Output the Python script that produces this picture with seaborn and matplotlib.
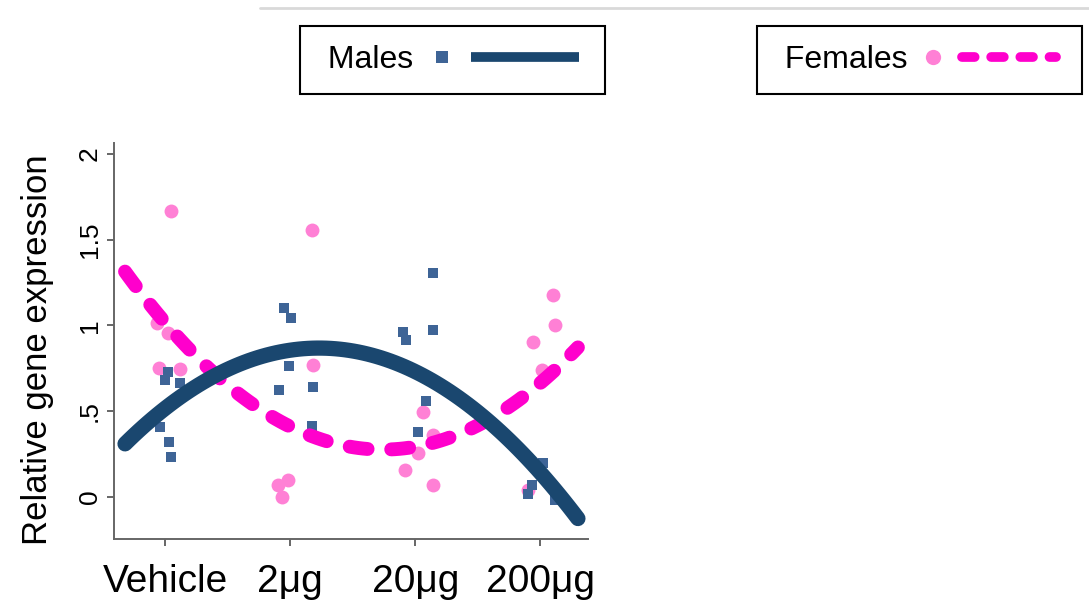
import pandas as pd
import matplotlib.pyplot as plt
from matplotlib.lines import Line2D
from matplotlib.legend_handler import HandlerBase
import seaborn as sns

sns.set_style('ticks')
plt.rcParams['font.family'] = ['Liberation Sans', 'DejaVu Sans']
plt.rcParams['text.color'] = 'black'

# Values (x is the jittered dose position, 1 = Vehicle)
male_x = [1.026, 1.000, 1.120, 0.958, 1.034, 1.048,
          1.949, 2.005, 1.994, 1.914, 2.185, 2.173,
          3.145, 2.905, 2.926, 3.140, 3.086, 3.022,
          4.022, 3.934, 3.902, 4.117]
male_y = [0.73, 0.68, 0.663, 0.41, 0.32, 0.235,
          1.10, 1.044, 0.764, 0.624, 0.64, 0.414,
          1.304, 0.96, 0.915, 0.974, 0.562, 0.377,
          0.20, 0.07, 0.02, -0.02]
female_x = [1.048, 0.936, 1.024, 0.952, 1.120,
            2.173, 2.183, 1.903, 1.983, 1.935,
            3.065, 3.145, 3.022, 2.918, 3.140,
            4.099, 4.120, 3.942, 4.016, 3.904]
female_y = [1.668, 1.015, 0.956, 0.754, 0.745,
            1.557, 0.77, 0.07, 0.10, 0.0,
            0.497, 0.36, 0.255, 0.157, 0.07,
            1.178, 1.0, 0.906, 0.74, 0.04]

# points
male_fit_x = [0.68, 1.013, 1.28, 1.546, 1.679, 2.183, 2.798, 3.438, 3.678, 4.077, 4.30]
male_fit_y = [0.322, 0.526, 0.643, 0.75, 0.81, 0.853, 0.789, 0.526, 0.41, 0.118, -0.175]
female_fit_x = [0.68, 0.733, 0.894, 1.08, 1.28, 1.493, 1.746, 1.959, 2.225, 2.44,
                2.838, 3.065, 3.33, 3.784, 4.064, 4.30]
female_fit_y = [1.31, 1.275, 1.11, 0.945, 0.78, 0.663, 0.527, 0.42, 0.332, 0.303,
                0.278, 0.313, 0.38, 0.507, 0.711, 0.88]

dose_ticks = [1, 2, 3, 4]
dose_labels = ['Vehicle', '2\u03bcg', '20\u03bcg', '200\u03bcg']
y_ticks = [0, 0.5, 1, 1.5, 2]
y_labels = ['0', '.5', '1', '1.5', '2']

males = pd.DataFrame({'dose': male_x, 'expr': male_y})
females = pd.DataFrame({'dose': female_x, 'expr': female_y})
male_fit = pd.DataFrame({'dose': male_fit_x, 'expr': male_fit_y})
female_fit = pd.DataFrame({'dose': female_fit_x, 'expr': female_fit_y})

navy = '#1a476f'
blue = '#3e6496'
magenta = '#ff00cc'
pink = '#ff80d5'

fig = plt.figure(figsize=(10.89, 6), dpi=100)
ax = fig.add_axes([0.1047, 0.1017, 0.4353, 0.66])

sns.scatterplot(data=females, x='dose', y='expr', marker='o', s=100,
                color=pink, linewidth=0, ax=ax, zorder=2)
sns.scatterplot(data=males, x='dose', y='expr', marker='s', s=62,
                color=blue, linewidth=0, ax=ax, zorder=3)

sns.regplot(data=female_fit, x='dose', y='expr', order=2, ci=None, scatter=False,
            ax=ax, line_kws=dict(color=magenta, lw=10, dashes=(1.3, 1.7),
                                 dash_capstyle='round', zorder=4))
sns.regplot(data=male_fit, x='dose', y='expr', order=2, ci=None, scatter=False,
            ax=ax, line_kws=dict(color=navy, lw=11, solid_capstyle='round', zorder=5))

ax.set_xlim(0.592, 4.381)
ax.set_ylim(-0.245, 2.064)
ax.set_xticks(dose_ticks, labels=dose_labels, fontsize=28)
ax.set_yticks(y_ticks, labels=y_labels, fontsize=19, rotation=90, va='center')
ax.tick_params(axis='both', color='#666666', width=1.4, length=5, labelcolor='black')
ax.tick_params(axis='x', pad=13)
ax.tick_params(axis='y', pad=4)
for side in ['left', 'bottom']:
    ax.spines[side].set_color('#666666')
    ax.spines[side].set_linewidth(1.4)
sns.despine(ax=ax)
ax.set_xlabel('')
ax.set_ylabel('Relative gene expression', fontsize=25, color='black')
ax.yaxis.set_label_coords(-0.127, 0.477)


class MarkerLineHandler(HandlerBase):
    def create_artists(self, legend, orig_handle, xdescent, ydescent,
                       width, height, fontsize, trans):
        mark, line = orig_handle
        y = height / 2 - ydescent
        m = Line2D([-xdescent + 0.4 * fontsize], [y])
        m.update_from(mark)
        m.set_linestyle('')
        l = Line2D([-xdescent + 1.3 * fontsize, -xdescent + width - 0.2 * fontsize], [y, y])
        l.update_from(line)
        l.set_marker('')
        for a in (m, l):
            a.set_transform(trans)
        return [m, l]


male_handle = (Line2D([], [], ls='', marker='s', ms=8.5, color=blue, mew=0),
               Line2D([], [], color=navy, lw=7, solid_capstyle='butt'))
female_handle = (Line2D([], [], ls='', marker='o', ms=11, color=pink, mew=0),
                 Line2D([], [], color=magenta, lw=7, dashes=(1.3, 1.7),
                        dash_capstyle='round'))

for handle, label, left, hlen, pad in [(male_handle, ' Males', 0.2755, 4.9, 0.5),
                                       (female_handle, ' Females', 0.695, 4.45, 0.4)]:
    leg = fig.legend([handle], [label], loc='center left', bbox_to_anchor=(left, 0.9),
                     markerfirst=False, fontsize=23, handlelength=hlen, handletextpad=pad,
                     borderpad=0.6, borderaxespad=0, fancybox=False, framealpha=1,
                     edgecolor='black', handler_map={tuple: MarkerLineHandler()})
    leg.get_frame().set_linewidth(1.5)

fig.add_artist(Line2D([0.2388, 1.0], [0.9867, 0.9867], color='#d9d9d9', lw=2,
                      transform=fig.transFigure))

fig.savefig('out.png', dpi=100)
